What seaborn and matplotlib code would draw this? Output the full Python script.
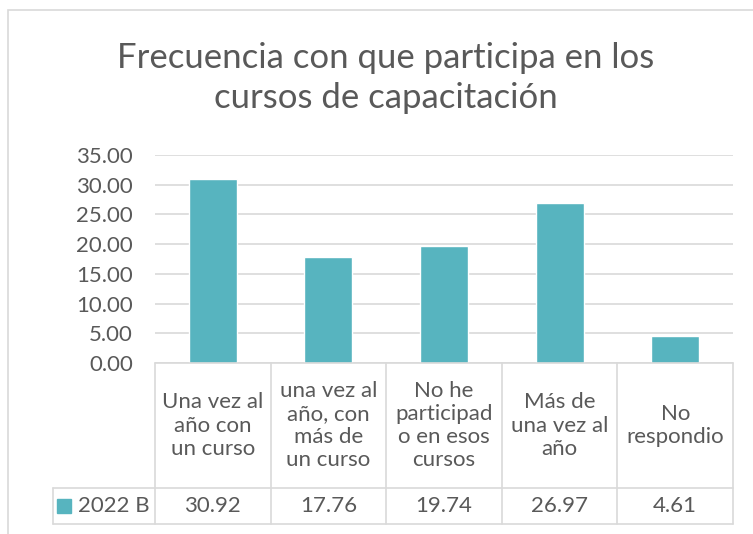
import numpy as np
import pandas as pd
import seaborn as sns
import matplotlib.pyplot as plt

#****************************************
# Datos
categorias = ["Una vez al\naño con\nun curso",
              "una vez al\naño, con\nmás de\nun curso",
              "No he\nparticipad\no en esos\ncursos",
              "Más de\nuna vez al\naño",
              "No\nrespondio"]
valores = [30.92, 17.76, 19.74, 26.97, 4.61]
serie = "2022 B"
yticks = [0, 5, 10, 15, 20, 25, 30, 35]
titulo = "Frecuencia con que participa en los\ncursos de capacitación"

df = pd.DataFrame({"categoria": categorias, "valor": valores})

#****************************************
sns.set_theme(style="white")
plt.rcParams["font.family"] = ["Lato", "DejaVu Sans"]

color = "#57B4BF"
gris_txt = "#595959"
gris_lin = "#D9D9D9"
fs = 16

fig = plt.figure(figsize=(7.53, 5.34), dpi=100)
ax = fig.add_axes([155/753, 1 - 363/534, 578/753, 208/534])
sns.barplot(data=df, x="categoria", y="valor", color=color, width=0.415,
            saturation=1, ax=ax)

ax.set_xlim(-0.5, len(categorias) - 0.5)
ax.set_ylim(0, 35)
ax.set_yticks(yticks)
ax.set_yticklabels([f"{t:.2f}" for t in yticks], fontsize=fs, color=gris_txt)
ax.set_xticks([])
ax.set_xlabel("")
ax.set_ylabel("")
ax.tick_params(axis="y", length=0, pad=16)
ax.yaxis.grid(True, color=gris_lin, lw=1.2)
ax.set_axisbelow(True)
for s in ax.spines.values():
    s.set_visible(False)

#****************************************
# Tabla de datos debajo del eje
tr = ax.get_xaxis_transform()
y1 = -125/208
y2 = -161/208
xleg = -0.5 - 102/115.6
n = len(categorias)
kw = dict(color=gris_lin, lw=1.2, transform=tr, clip_on=False)
ax.plot([-0.5, n - 0.5], [0, 0], **kw)
ax.plot([xleg, n - 0.5], [y1, y1], **kw)
ax.plot([xleg, n - 0.5], [y2, y2], **kw)
for i in range(n + 1):
    ax.plot([i - 0.5, i - 0.5], [0, y2], **kw)
ax.plot([xleg, xleg], [y1, y2], **kw)

for i, (c, v) in enumerate(zip(categorias, valores)):
    ax.text(i, y1/2, c, transform=tr, ha="center", va="center",
            fontsize=fs, color=gris_txt, linespacing=1.2)
    ax.text(i, (y1 + y2)/2, f"{v:.2f}", transform=tr, ha="center",
            va="center", fontsize=fs, color=gris_txt)

ax.plot([-0.5 - 91/115.6], [(y1 + y2)/2], marker="s", ms=9.5, color=color,
        transform=tr, clip_on=False, ls="none")
ax.text(-0.5 - 77/115.6, (y1 + y2)/2, serie, transform=tr, ha="left",
        va="center", fontsize=fs, color=gris_txt)

#****************************************
fig.text(386/753, 1 - 78/534, titulo, ha="center", va="center",
         fontsize=25, color=gris_txt, linespacing=1.3)

fig.add_artist(plt.Rectangle((8/753, -0.1), 2, 1.1 - 10/534,
                             transform=fig.transFigure, fill=False,
                             edgecolor=gris_lin, lw=1.2))

fig.savefig("out.png", dpi=100)
